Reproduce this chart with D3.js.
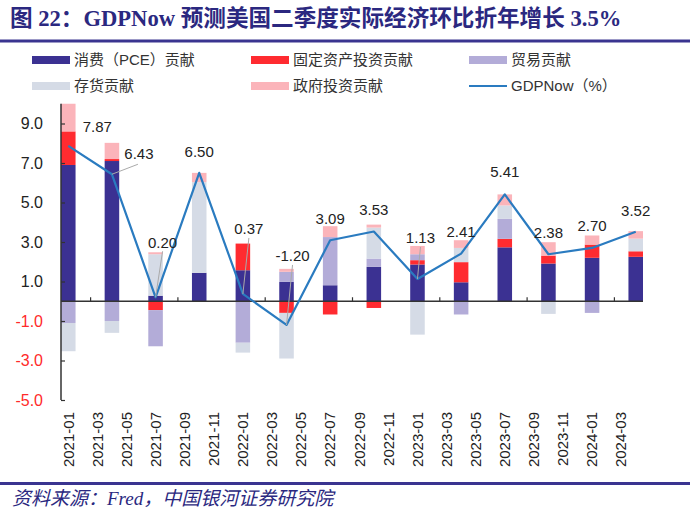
<!DOCTYPE html>
<html><head><meta charset="utf-8">
<script src="https://cdn.jsdelivr.net/npm/d3@7"></script>
<style>body{margin:0;background:#fff}</style>
</head><body>
<svg id="c" width="700" height="525" xmlns="http://www.w3.org/2000/svg"></svg>
<script>
// ---------- data ----------
const quarters = ["2021-01","2021-04","2021-07","2021-10","2022-01","2022-04","2022-07","2022-10","2023-01","2023-04","2023-07","2023-10","2024-01","2024-04"];
const pce        = [6.90, 7.10, 0.28, 1.44, 1.57, 0.98, 0.81, 1.74, 1.86, 0.96, 2.73, 1.91, 2.20, 2.25];
const fixedInv   = [1.70, 0.10,-0.45, 0.00, 1.35,-0.59,-0.67,-0.34, 0.22, 1.02, 0.43, 0.40, 0.67, 0.28];
const trade      = [-1.10,-1.00,-1.83,0.00,-2.10, 0.51, 2.44, 0.42, 0.30,-0.67, 1.01, 0.00,-0.59, 0.00];
const inventory  = [-1.43,-0.60,2.10, 4.59,-0.50,-2.31, 0.00, 1.57,-1.69, 0.72, 0.68,-0.64, 0.00, 0.64];
const government = [1.40, 0.82, 0.10, 0.47, 0.00, 0.15, 0.55, 0.15, 0.42, 0.39, 0.56, 0.68, 0.46, 0.38];
const gdpNow     = [7.87, 6.43, 0.20, 6.50, 0.37,-1.20, 3.09, 3.53, 1.13, 2.41, 5.41, 2.38, 2.70, 3.52];
const tickLabels = ["2021-01","2021-03","2021-05","2021-07","2021-09","2021-11","2022-01","2022-03","2022-05","2022-07","2022-09","2022-11","2023-01","2023-03","2023-05","2023-07","2023-09","2023-11","2024-01","2024-03"];
const yTicks = [-5,-3,-1,1,3,5,7,9];
const seriesNames = ["消费（PCE）贡献","固定资产投资贡献","贸易贡献","存货贡献","政府投资贡献"];
const lineName = "GDPNow（%）";
const titleText = "图 22：GDPNow 预测美国二季度实际经济环比折年增长 3.5%";
const sourceText = "资料来源：Fred，中国银河证券研究院";

// ---------- styles / layout ----------
const colors = ["#3b3192","#ff2b30","#b3acd8","#d5dbe6","#fbb4ba"];
const lineColor = "#2a7bc0";
const navy = "#2b2880";
// label nudges (px) relative to point, and whether a leader line is drawn
const labelNudge = [[29,-19,0],[27,-21,1],[7,-55,1],[0,-21,0],[6,-65,1],[6,-69,1],[0,-22,0],[0,-22,0],[3,-41,1],[0,-22,0],[0,-23,0],[0,-22,0],[0,-22,0],[0,-21,0]];

const svg = d3.select("#c");
const monthIdx = s => { const [y,m] = s.split("-").map(Number); return (y-2021)*12 + (m-1); };
const hy = f => v => f(v).replace("\u2212", "-");

const x = d3.scaleLinear().domain([-0.5, 39.5]).range([61, 643]);
const y = d3.scaleLinear().domain([-5, 10]).range([400, 103.75]);
const bw = x(1) - x(0);

// ---------- title ----------
svg.append("text").attr("x", 10).attr("y", 26)
  .attr("font-family", "'Liberation Serif','Noto Sans CJK SC',serif")
  .attr("font-weight", "bold").attr("font-size", 22.6).attr("fill", navy)
  .text(titleText);
svg.append("rect").attr("x", 0).attr("y", 39.5).attr("width", 690).attr("height", 3).attr("fill", "#3a3490");

// ---------- legend ----------
const legCols = [32, 251, 469], legRows = [60, 86];
const legItems = seriesNames.map((n,i)=>({name:n, color:colors[i], type:"rect"})).concat([{name:lineName, color:lineColor, type:"line"}]);
legItems.forEach((it, k) => {
  const col = k % 3, row = Math.floor(k/3);
  const g = svg.append("g").attr("transform", `translate(${legCols[col]},${legRows[row]})`);
  if (it.type === "rect") g.append("rect").attr("x",0).attr("y",-4).attr("width",38).attr("height",8).attr("fill",it.color);
  else g.append("line").attr("x1",0).attr("x2",38).attr("y1",0).attr("y2",0).attr("stroke",it.color).attr("stroke-width",2);
  g.append("text").attr("x", 42).attr("y", 0).attr("dy","0.36em")
    .attr("font-family","'Liberation Sans','Noto Sans CJK SC',sans-serif").attr("font-size",15).attr("fill","#333")
    .text(it.name);
});

// ---------- bars ----------
const rows = quarters.map((q,i)=>({q, s0:pce[i], s1:fixedInv[i], s2:trade[i], s3:inventory[i], s4:government[i]}));
const stack = d3.stack().keys(["s0","s1","s2","s3","s4"]).offset(d3.stackOffsetDiverging)(rows);
svg.append("g").selectAll("g").data(stack).join("g").attr("fill",(d,i)=>colors[i])
  .selectAll("rect").data(d=>d).join("rect")
  .attr("x", d => x(monthIdx(d.data.q)) - bw/2)
  .attr("width", bw)
  .attr("y", d => y(Math.max(d[0],d[1])))
  .attr("height", d => Math.abs(y(d[0]) - y(d[1])));

// ---------- axes ----------
const axisColor = "#333";
const yAxis = svg.append("g").attr("transform", `translate(${x(-0.5)},0)`)
  .call(d3.axisLeft(y).tickValues(yTicks).tickSize(-4).tickFormat(hy(d3.format(".1f"))).tickPadding(18));
yAxis.select(".domain").attr("stroke", axisColor).attr("stroke-width",1.5).attr("d", `M0,${y(-5)}V${y(10)}`);
yAxis.selectAll(".tick line").attr("stroke", axisColor).attr("stroke-width",1.2);
yAxis.selectAll(".tick text").attr("font-family","'Liberation Sans',Arial,sans-serif").attr("font-size",16)
  .attr("fill", d => d < 0 ? "#ff2a2a" : "#222");

const xTickPos = d3.range(1.5, 40, 6);
const xAxis = svg.append("g").attr("transform", `translate(0,${y(0)})`)
  .call(d3.axisBottom(x).tickValues(xTickPos).tickSize(-4).tickFormat(""));
xAxis.select(".domain").attr("stroke", axisColor).attr("stroke-width",1.5).attr("d", `M${x(-0.5)},0H${x(39.5)}`);
xAxis.selectAll(".tick line").attr("stroke", axisColor).attr("stroke-width",1.2);

// x tick labels (rotated)
svg.append("g").selectAll("text").data(tickLabels).join("text")
  .attr("transform", d => `translate(${x(monthIdx(d))},412) rotate(-90)`)
  .attr("text-anchor","end").attr("dy","0.35em")
  .attr("font-family","'Liberation Sans',Arial,sans-serif").attr("font-size",15).attr("fill","#222")
  .text(d=>d);

// ---------- line ----------
const pts = quarters.map((q,i)=>[x(monthIdx(q)), y(gdpNow[i])]);
svg.append("path").attr("d", d3.line()(pts)).attr("fill","none").attr("stroke",lineColor).attr("stroke-width",2.2).attr("stroke-linejoin","round");

// ---------- data labels ----------
const lbl = svg.append("g");
gdpNow.forEach((v,i)=>{
  const [px,py] = pts[i];
  const [dx,dy,lead] = labelNudge[i];
  const cx = px+dx, cy = py+dy;
  if (lead) lbl.append("line").attr("x1",px).attr("y1",py).attr("x2",cx-(dx>20?1:0)).attr("y2",cy+(dx>20?11:9)).attr("stroke","#aaa").attr("stroke-width",1);
  lbl.append("text").attr("x",cx).attr("y",cy).attr("dy","0.36em").attr("text-anchor","middle")
    .attr("font-family","'Liberation Sans',Arial,sans-serif").attr("font-size",15).attr("fill","#222")
    .text(hy(d3.format(".2f"))(v));
});

// ---------- source ----------
svg.append("rect").attr("x", 0).attr("y", 482).attr("width", 690).attr("height", 3).attr("fill", "#3a3490");
svg.append("text").attr("x", 12).attr("y", 505)
  .attr("font-family", "'Liberation Serif','Noto Sans CJK SC',serif")
  .attr("font-style","italic").attr("font-size", 19).attr("fill", navy)
  .text(sourceText);
</script>
</body></html>
